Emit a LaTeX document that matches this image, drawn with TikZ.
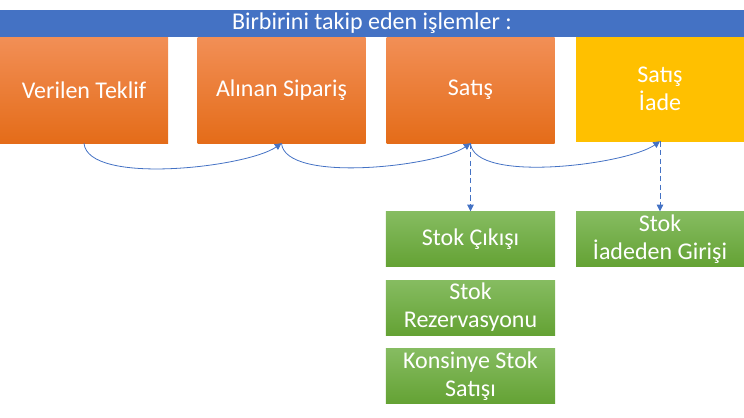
\documentclass[tikz,border=0pt]{standalone}
\usepackage{fontspec}
\setmainfont{Carlito}
\usetikzlibrary{positioning,arrows.meta}
\definecolor{bantmavi}{HTML}{4472C4}
\definecolor{turuncuust}{HTML}{F28F56}
\definecolor{turuncualt}{HTML}{E46C19}
\definecolor{sari}{HTML}{FFC000}
\definecolor{yesilust}{HTML}{86BC61}
\definecolor{yesilalt}{HTML}{64A234}
\begin{document}
\begin{tikzpicture}[x=0.75pt, y=-0.75pt,
  islem/.style={rectangle, top color=turuncuust, bottom color=turuncualt, text=white,
    minimum width=126pt, minimum height=79.5pt, inner sep=0pt, align=center,
    font=\fontsize{18}{21}\selectfont},
  stokkutu/.style={rectangle, top color=yesilust, bottom color=yesilalt, text=white,
    minimum width=127pt, minimum height=41.25pt, inner sep=0pt, align=center,
    font=\fontsize{18}{21}\selectfont},
  akis/.style={-{Triangle[length=5pt,width=5pt]}, bantmavi, line width=0.6pt},
  kesik/.style={akis, dash pattern=on 4pt off 2.5pt}]
  \useasboundingbox (0,0) rectangle (744,418);

  \node (baslik)  [fill=bantmavi, text=white, minimum width=558pt, minimum height=20.25pt,
                  inner sep=0pt, font=\fontsize{18}{21}\selectfont] at (372,23.5)
                  {Birbirini takip eden işlemler :};
  \node (teklif)  [islem] at (84,90)    {Verilen Teklif};
  \node (siparis) [islem] at (281.5,90) {Alınan Sipariş};
  \node (satis)   [islem] at (470.5,90) {Satış};
  \node (iade)    [islem, top color=sari, bottom color=sari, minimum height=78pt]
                  at (660,89) {Satış\\İade};

  \node (cikis)    [stokkutu, below=51pt of satis]    {Stok Çıkışı};
  \node (rezerv)   [stokkutu, below=9.75pt of cikis]  {Stok\\Rezervasyonu};
  \node (konsinye) [stokkutu, below=9.75pt of rezerv] {Konsinye Stok\\Satışı};
  \node (giris)    [stokkutu, below=52.5pt of iade, minimum width=126pt]
                   {Stok\\İadeden Girişi};

  \draw[akis] (teklif.south)  to[out=-85, in=-145, looseness=0.55] (siparis.south);
  \draw[akis] (siparis.south) to[out=-85, in=-145, looseness=0.55] (satis.south);
  \draw[akis] (satis.south)   to[out=-85, in=-145, looseness=0.55] (iade.south);

  \draw[kesik] (satis.south) -- (cikis.north);
  \draw[kesik] (iade.south)  -- (giris.north);
\end{tikzpicture}
\end{document}
